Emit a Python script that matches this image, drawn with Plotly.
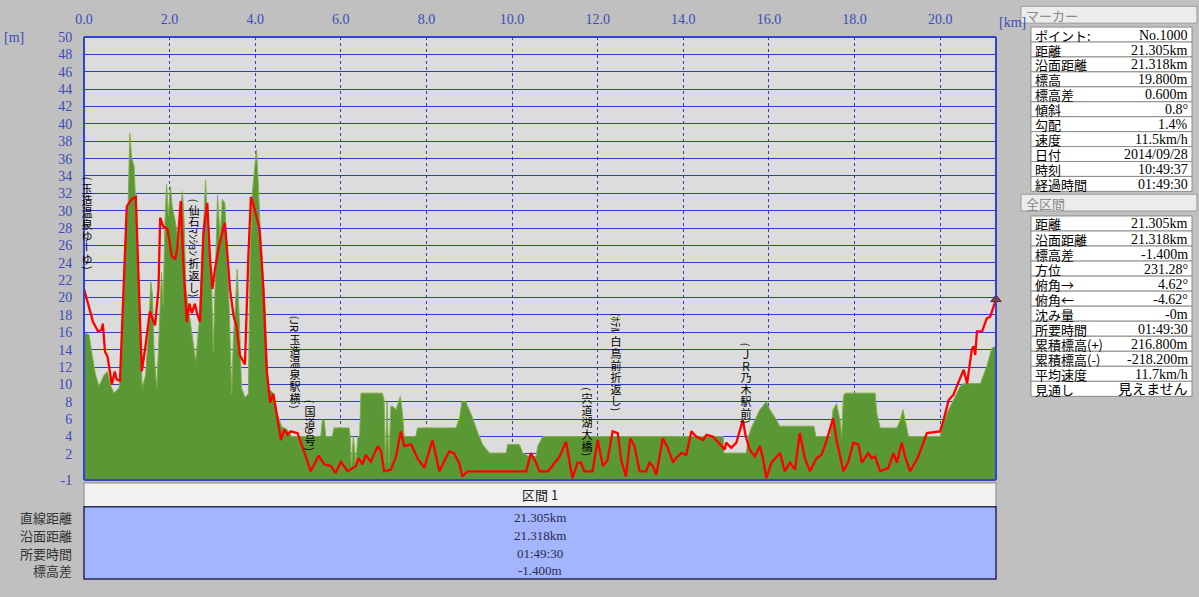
import plotly.graph_objects as go

# ---------------- data ----------------
red_km = [0.00, 0.14, 0.21, 0.33, 0.41, 0.44, 0.49, 0.55, 0.60, 0.65, 0.72, 0.76, 0.84, 0.92, 1.00,
          1.11, 1.21, 1.27, 1.35, 1.43, 1.54, 1.66, 1.74, 1.78, 1.85, 1.95, 2.05, 2.13, 2.18, 2.26,
          2.32, 2.40, 2.46, 2.52, 2.59, 2.65, 2.71, 2.79, 2.88, 2.94, 3.00, 3.06, 3.14, 3.25, 3.29,
          3.33, 3.41, 3.49, 3.57, 3.64, 3.76, 3.84, 3.90, 3.99, 4.10, 4.19, 4.27, 4.35, 4.42, 4.50,
          4.60, 4.68, 4.76, 4.83, 4.99, 5.18, 5.30, 5.48, 5.61, 5.77, 5.88, 6.00, 6.16, 6.35, 6.41,
          6.51, 6.58, 6.70, 6.86, 6.94, 7.01, 7.17, 7.29, 7.40, 7.48, 7.64, 7.79, 7.95, 8.14, 8.30,
          8.53, 8.64, 8.76, 8.84, 8.96, 10.33, 10.44, 10.56, 10.64, 10.84, 10.99, 11.11, 11.26, 11.41,
          11.53, 11.61, 11.69, 11.88, 12.00, 12.12, 12.23, 12.35, 12.47, 12.55, 12.66, 12.76, 12.86,
          12.98, 13.13, 13.21, 13.29, 13.37, 13.52, 13.64, 13.76, 13.83, 13.95, 14.07, 14.19, 14.30,
          14.46, 14.54, 14.69, 14.85, 14.97, 15.00, 15.12, 15.24, 15.32, 15.39, 15.46, 15.55, 15.67,
          15.79, 15.86, 15.94, 16.06, 16.26, 16.37, 16.49, 16.61, 16.72, 16.84, 16.96, 17.11, 17.23,
          17.35, 17.50, 17.58, 17.74, 17.85, 17.97, 18.09, 18.17, 18.32, 18.40, 18.48, 18.60, 18.79,
          18.91, 18.99, 19.10, 19.18, 19.30, 19.49, 19.57, 19.69, 20.00, 20.08, 20.20, 20.31, 20.39,
          20.55, 20.63, 20.74, 20.78, 20.82, 20.86, 20.98, 21.09, 21.17, 21.25, 21.305]
red_m = [21.0, 18.4, 17.2, 16.1, 16.3, 17.0, 13.8, 13.2, 11.5, 10.0, 11.5, 10.6, 10.4, 20.3, 30.5,
         31.3, 31.6, 22.9, 11.5, 14.2, 18.4, 16.8, 21.0, 29.2, 28.2, 27.9, 24.8, 24.4, 25.6, 31.1,
         24.0, 17.2, 19.3, 18.2, 19.3, 18.0, 17.2, 27.5, 30.9, 24.8, 21.0, 23.3, 25.6, 27.9, 28.6,
         26.3, 21.0, 18.0, 16.5, 13.4, 12.3, 24.8, 31.6, 30.1, 27.9, 21.0, 11.5, 7.9, 8.9, 6.6,
         3.6, 4.8, 4.2, 4.6, 4.4, 1.7, 0.0, 1.8, 0.8, 0.6, -0.2, 1.1, 0.0, 0.6, 1.5,
         0.8, 1.9, 1.1, 2.9, 2.3, 0.0, 0.2, 1.7, 4.6, 2.9, 3.1, 1.5, 0.4, 3.6, 0.0,
         2.3, 2.1, 1.0, -0.6, 0.0, 0.0, 2.1, 1.0, 0.0, 0.0, 1.0, 1.7, 3.4, -0.8,
         1.0, 1.0, 0.0, 0.0, 3.6, 0.6, 1.3, 4.6, 4.4, 1.3, -0.6, 3.8, 2.9,
         0.0, 0.0, 1.0, 0.6, -0.4, 3.8, 2.7, 1.0, 1.5, 2.1, 1.9, 4.6, 4.0,
         3.6, 4.2, 4.0, 3.1, 2.5, 3.3, 2.7, 3.3, 4.6, 5.9, 4.0, 2.5, 1.7,
         2.9, 1.5, -0.8, 1.0, 2.1, 0.0, 1.0, 0.2, 4.4, 1.5, 0.0, 1.5, 1.9,
         3.6, 6.1, 3.6, 0.0, 1.0, 3.3, 3.1, 1.0, 2.1, 1.5, 1.7, 0.0, 0.4,
         2.1, 1.0, 3.3, 1.7, 0.0, 1.7, 2.7, 4.4, 4.6, 5.9, 8.2, 8.8, 9.8,
         11.7, 10.1, 14.0, 14.4, 13.4, 16.1, 16.1, 17.6, 17.8, 19.0, 19.8]

green_km = [0.00, 0.04, 0.12, 0.19, 0.27, 0.35, 0.47, 0.55, 0.62, 0.70, 0.82, 0.86, 0.90, 0.97, 1.03,
            1.07, 1.11, 1.17, 1.21, 1.26, 1.32, 1.36, 1.44, 1.52, 1.56, 1.60, 1.64, 1.70, 1.75, 1.81,
            1.85, 1.89, 1.93, 1.97, 2.02, 2.06, 2.14, 2.22, 2.26, 2.30, 2.34, 2.38, 2.45, 2.53, 2.61,
            2.69, 2.76, 2.84, 2.90, 2.98, 3.02, 3.06, 3.12, 3.18, 3.23, 3.29, 3.35, 3.39, 3.45, 3.49,
            3.55, 3.58, 3.63, 3.68, 3.76, 3.84, 3.88, 3.94, 3.99, 4.03, 4.07, 4.11, 4.17, 4.23, 4.27,
            4.31, 4.36, 4.44, 4.52, 4.62, 4.73, 4.85, 5.53, 5.57, 5.61, 5.65, 5.80, 5.84, 6.19, 6.22,
            6.25, 6.29, 6.35, 6.40, 6.44, 6.47, 6.97, 7.01, 7.04, 7.08, 7.12, 7.17, 7.21, 7.29, 7.39,
            7.44, 7.48, 7.75, 7.79, 8.69, 8.77, 8.83, 8.92, 9.08, 9.20, 9.31, 9.47, 9.86, 9.90, 10.17,
            10.25, 10.40, 10.56, 10.60, 10.72, 14.93, 14.95, 15.47, 15.52, 15.59, 15.79, 15.94, 16.02,
            16.18, 16.25, 17.05, 17.10, 17.43, 17.50, 17.58, 17.66, 17.70, 17.74, 17.78, 18.48, 18.52,
            18.60, 18.99, 19.07, 19.13, 19.22, 19.26, 20.00, 20.04, 20.16, 20.31, 20.47, 20.55, 20.94,
            21.09, 21.21, 21.305]
green_m = [16.0, 15.9, 15.7, 13.4, 11.1, 9.8, 11.1, 11.5, 9.9, 9.0, 9.6, 11.1, 17.2, 26.7, 30.5,
           38.9, 36.2, 35.1, 30.5, 22.9, 13.4, 9.6, 11.1, 17.2, 21.8, 20.3, 13.4, 9.6, 15.3, 22.9,
           19.1, 28.6, 33.0, 29.4, 32.8, 30.5, 28.6, 26.0, 30.5, 32.2, 28.6, 21.0, 18.4, 15.3, 12.7,
           17.2, 24.8, 33.5, 26.7, 21.8, 13.8, 21.0, 31.8, 26.7, 31.3, 30.9, 24.8, 19.1, 8.9, 15.3,
           20.3, 23.3, 17.2, 9.6, 8.5, 8.9, 24.8, 32.4, 35.1, 37.0, 33.2, 28.6, 24.1, 18.7, 13.4,
           9.6, 9.3, 8.9, 6.6, 5.1, 4.9, 4.0, 4.0, 5.9, 5.9, 4.0, 4.0, 5.0, 5.0, 4.0,
           0.5, 4.0, 1.0, 4.0, 4.0, 9.0, 9.0, 8.2, 1.0, 8.0, 1.0, 7.5, 7.5, 7.1, 8.6,
           6.7, 4.0, 4.0, 5.0, 5.0, 6.1, 8.0, 8.0, 6.1, 4.4, 3.1, 2.1, 2.1, 3.1, 3.1,
           2.1, 1.7, 1.7, 2.9, 4.0, 4.0, 2.1, 2.1, 4.0, 5.0, 7.1, 8.0, 7.1,
           5.9, 5.2, 5.2, 4.0, 4.0, 7.1, 7.8, 5.9, 4.0, 8.6, 9.0, 9.0, 6.7,
           5.0, 5.0, 5.9, 7.1, 5.0, 4.0, 4.0, 5.0, 6.7, 8.2, 9.8, 10.1, 10.1,
           12.1, 14.2, 14.4]

marker_km = [21.305]
marker_m = [19.8]

x_tickvals = [0, 2, 4, 6, 8, 10, 12, 14, 16, 18, 20]
x_ticktext = ["0.0", "2.0", "4.0", "6.0", "8.0", "10.0", "12.0", "14.0", "16.0", "18.0", "20.0"]
y_tickvals = [-1, 2, 4, 6, 8, 10, 12, 14, 16, 18, 20, 22, 24, 26, 28, 30, 32, 34, 36, 38, 40,
              42, 44, 46, 48, 50]
y_ticktext = [str(v) for v in y_tickvals]

route_labels = ["(玉造温泉ゆーゆ)", "(仙石ﾏﾝｼｮﾝ折返し)", "(JR玉造温泉駅横)", "(国道9号)",
                "(宍道湖大橋)", "(ﾎﾃﾙ白鳥前折返し)", "(ＪＲ乃木駅前)", "(ゴールゆーゆ前)"]
route_label_km = [0.08, 2.57, 4.93, 5.28, 11.75, 12.43, 15.47, 21.33]
route_label_top_m = [33.96, 31.5, 18.0, 8.35, 9.8, 18.4, 14.9, 32.6]

marker_title = "マーカー"
marker_rows = ["ポイント:", "距離", "沿面距離", "標高", "標高差", "傾斜", "勾配", "速度", "日付", "時刻", "経過時間"]
marker_vals = ["No.1000", "21.305km", "21.318km", "19.800m", "0.600m", "0.8°", "1.4%", "11.5km/h",
               "2014/09/28", "10:49:37", "01:49:30"]
section_title = "全区間"
section_rows = ["距離", "沿面距離", "標高差", "方位", "俯角→", "俯角←", "沈み量", "所要時間",
                "累積標高(+)", "累積標高(-)", "平均速度", "見通し"]
section_vals = ["21.305km", "21.318km", "-1.400m", "231.28°", "4.62°", "-4.62°", "-0m", "01:49:30",
                "216.800m", "-218.200m", "11.7km/h", "見えません"]
summary_header = "区間 1"
summary_rows = ["直線距離", "沿面距離", "所要時間", "標高差"]
summary_vals = ["21.305km", "21.318km", "01:49:30", "-1.400m"]

# ---------------- geometry ----------------
W, H = 1199, 597
PL, PR, PT, PB = 84, 996, 32, 480
Y_MIN, Y_MAX = -1, 50
X_MAX = 21.305
PX_PER_M = (PB - PT) / (Y_MAX - Y_MIN)

BLUE_TXT = "#3b4bbb"
GRID = "#2f3fc4"
JP = "Noto Sans CJK JP"
SERIF = "Liberation Serif, Noto Sans CJK JP"


def pxx(x):
    return (x - PL) / (PR - PL)


def pxy(y):
    return (PB - y) / (PB - PT)


fig = go.Figure()
fig.add_trace(go.Scatter(x=green_km, y=[Y_MIN] * len(green_km), mode="lines",
                         line=dict(width=0, color="rgba(0,0,0,0)"), hoverinfo="skip", showlegend=False))
fig.add_trace(go.Scatter(x=green_km, y=green_m, mode="lines", fill="tonexty", fillcolor="#5a9735",
                         line=dict(color="#86ad4c", width=1), showlegend=False))
fig.add_trace(go.Scatter(x=red_km, y=red_m, mode="lines", line=dict(color="#ff0000", width=2.3),
                         showlegend=False))
fig.add_trace(go.Scatter(x=marker_km, y=marker_m, mode="markers",
                         marker=dict(symbol="triangle-up", size=9, color="#a0401c",
                                     line=dict(color="#5a2a10", width=1)),
                         showlegend=False, cliponaxis=False))

shapes = []
annotations = []

# plot border
for (x0, y0, x1, y1) in [(0, 1, 1, 1), (1, 0, 1, 1), (0, 0, 1, 0), (0, 0, 0, 1)]:
    shapes.append(dict(type="line", xref="paper", yref="paper", x0=x0, y0=y0, x1=x1, y1=y1,
                       line=dict(color="#3344cc", width=2), layer="above"))

# axis unit labels
annotations.append(dict(xref="paper", yref="paper", x=pxx(2), y=pxy(33), text="[m]", showarrow=False,
                        xanchor="left", yanchor="middle", font=dict(family=SERIF, size=14, color=BLUE_TXT)))
annotations.append(dict(xref="paper", yref="paper", x=pxx(997), y=pxy(17), text="[km]", showarrow=False,
                        xanchor="left", yanchor="middle", font=dict(family=SERIF, size=14, color=BLUE_TXT)))


def is_half(ch):
    o = ord(ch)
    return o < 0x2000 or 0xFF61 <= o <= 0xFF9F


def vertical_label(text, x_km, top_m):
    runs = []
    i = 0
    while i < len(text):
        ch = text[i]
        if is_half(ch):
            j = i
            while j < len(text) and is_half(text[j]):
                j += 1
            runs.append((text[i:j], 6 * (j - i), 90))
            i = j
        elif ch == "ー":
            runs.append((ch, 12, 90))
            i += 1
        else:
            runs.append((ch, 12, 0))
            i += 1
    off = 0.0
    for run, h, ang in runs:
        cy = top_m - (off + h / 2) / PX_PER_M
        if ang == 0:
            bw, bh = 12, 12
        else:
            bw, bh = h, 12
        annotations.append(dict(x=x_km, y=cy, xref="x", yref="y", text=run, textangle=ang,
                                showarrow=False, xanchor="center", yanchor="middle", borderpad=0,
                                width=bw, height=bh, valign="middle", align="center",
                                font=dict(family=JP, size=11, color="#000000")))
        off += h


for t, xk, tm in zip(route_labels, route_label_km, route_label_top_m):
    vertical_label(t, xk, tm)


def rect(x0, y0, x1, y1, fill, line, width=1):
    shapes.append(dict(type="rect", xref="paper", yref="paper", x0=pxx(x0), x1=pxx(x1),
                       y0=pxy(y1), y1=pxy(y0), fillcolor=fill, line=dict(color=line, width=width),
                       layer="above"))


def text(x, y, s, anchor="left", size=13, color="#000000", family=JP):
    annotations.append(dict(xref="paper", yref="paper", x=pxx(x), y=pxy(y), text=s, showarrow=False,
                            xanchor=anchor, yanchor="middle", font=dict(family=family, size=size, color=color)))


# right panel: marker table
rect(1021, 1, 1197, 18, "#ececec", "#9a9a9a")
text(1024, 10, marker_title, color="#8a8a8a", size=13)
top = 22.0
rh = 15.1
for k, (lab, val) in enumerate(zip(marker_rows, marker_vals)):
    y0 = top + k * rh
    rect(1031, y0, 1192, y0 + rh, "#ffffff", "#8c8c8c")
    text(1033, y0 + rh / 2 + 0.5, lab, size=13)
    text(1190, y0 + rh / 2 + 0.5, val, anchor="right", size=14, family=SERIF)

rect(1021, 191, 1197, 208, "#ececec", "#9a9a9a")
text(1024, 200, section_title, color="#8a8a8a", size=13)
top = 213.0
rh = 15.2
for k, (lab, val) in enumerate(zip(section_rows, section_vals)):
    y0 = top + k * rh
    rect(1031, y0, 1192, y0 + rh, "#ffffff", "#8c8c8c")
    text(1033, y0 + rh / 2 + 0.5, lab, size=13)
    text(1190, y0 + rh / 2 + 0.5, val, anchor="right", size=14, family=SERIF)

# bottom summary table
rect(84, 483, 996, 507, "#f2f2f2", "#8a8a8a")
text(540, 495, summary_header, anchor="center", size=13, color="#202020")
rect(84, 507, 996, 580, "#a3b5fc", "#2a2a52", 1.5)
row_y = [518, 536, 554, 572]
for lab, val, yy in zip(summary_rows, summary_vals, row_y):
    text(74, yy, lab, anchor="right", size=13, color="#333333")
    text(540, yy, val, anchor="center", size=13, color="#2a2a50", family=SERIF)

fig.update_layout(
    width=W, height=H, autosize=False,
    margin=dict(l=PL, r=W - PR, t=PT, b=H - PB, pad=0),
    paper_bgcolor="#c0c0c0", plot_bgcolor="#dcdcdc",
    showlegend=False, shapes=shapes, annotations=annotations,
    xaxis=dict(range=[0, X_MAX], side="top", tickvals=x_tickvals, ticktext=x_ticktext,
               showgrid=True, gridcolor=GRID, gridwidth=1, griddash="dot", zeroline=False,
               showline=False, ticks="outside", ticklen=6, tickcolor="rgba(0,0,0,0)",
               tickfont=dict(family=SERIF, size=14, color=BLUE_TXT), fixedrange=True),
    yaxis=dict(range=[Y_MIN, Y_MAX], tickvals=y_tickvals, ticktext=y_ticktext,
               showgrid=True, gridcolor=GRID, gridwidth=1, zeroline=False, showline=False,
               ticks="outside", ticklen=8, tickcolor="rgba(0,0,0,0)",
               tickfont=dict(family=SERIF, size=14, color=BLUE_TXT), fixedrange=True),
)

fig.write_html("out.html", config={"displayModeBar": False},
               post_script="document.body.style.margin='0px';document.body.style.overflow='hidden';"
                           "document.body.style.background='#c0c0c0';")
